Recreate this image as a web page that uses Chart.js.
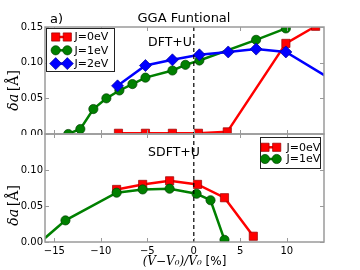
<!DOCTYPE html>
<html>
<head>
<meta charset="utf-8">
<script src="https://cdn.jsdelivr.net/npm/chart.js@4.4.1/dist/chart.umd.min.js"></script>
<style>
  html, body { margin: 0; padding: 0; background: #fff; }
  #wrap { position: relative; width: 360px; height: 270px; }
  canvas { position: absolute; left: 0; }
</style>
</head>
<body>
<div id="wrap">
  <canvas id="topChart" width="360" height="135" style="top:0"></canvas>
  <canvas id="botChart" width="360" height="137" style="top:133px"></canvas>
</div>
<script>
// ticks
const xTicks = [-15, -10, -5, 0, 5, 10];
const yTicksTop = [0, 0.05, 0.10, 0.15];
const yTicksBot = [0, 0.05, 0.10];

// DFT+U panel
const dftJ0x = [-8.1, -5.2, -2.3, 0.5, 3.6, 9.9, 13.1];
const dftJ0y = [0.001, 0.001, 0.001, 0.001, 0.003, 0.127, 0.151];
const dftJ1x = [-13.5, -12.2, -10.8, -9.4, -8.0, -6.6, -5.2, -2.3, -0.9, 0.6, 6.7, 9.9];
const dftJ1y = [0.0, 0.007, 0.035, 0.050, 0.061, 0.070, 0.079, 0.089, 0.097, 0.103, 0.132, 0.148];
const dftJ2x = [-8.2, -5.2, -2.3, 0.6, 3.7, 6.7, 9.9, 16.5];
const dftJ2y = [0.0675, 0.096, 0.104, 0.111, 0.115, 0.119, 0.115, 0.063];

// SDFT+U panel
const sdftJ0x = [-8.3, -5.5, -2.6, 0.4, 3.3, 6.4];
const sdftJ0y = [0.073, 0.080, 0.085, 0.080, 0.0615, 0.008];
const sdftJ1x = [-16.5, -13.8, -8.3, -5.5, -2.6, 0.3, 1.8, 3.3];
const sdftJ1y = [0.0, 0.030, 0.0685, 0.073, 0.074, 0.067, 0.058, 0.003];

const RED = '#ff0000', GREEN = '#008000', BLUE = '#0000ff';
const GRAY = '#9a9a9a';

const styles = {
  J0: { color: RED, edge: '#990000', point: 'rect', r: 5.8, label: 'J=0eV', order: 3 },
  J1: { color: GREEN, edge: '#004000', point: 'circle', r: 4.6, label: 'J=1eV', order: 2 },
  J2: { color: BLUE, edge: '#000099', point: 'rectRot', r: 6, label: 'J=2eV', order: 1 }
};

function series(xs, ys, s) {
  return {
    data: xs.map((x, i) => ({ x: x, y: ys[i] })),
    borderColor: s.color,
    backgroundColor: s.color,
    borderWidth: 2.5,
    pointStyle: s.point,
    pointRadius: s.r,
    pointBorderColor: s.edge,
    pointBorderWidth: 0.7,
    tension: 0,
    order: s.order
  };
}

function marker(ctx, s, x, y) {
  ctx.save();
  ctx.fillStyle = s.color;
  ctx.strokeStyle = s.edge;
  ctx.lineWidth = 0.7;
  ctx.beginPath();
  if (s.point === 'rect') {
    const h = s.r * Math.SQRT1_2;
    ctx.rect(x - h, y - h, 2 * h, 2 * h);
  } else if (s.point === 'circle') {
    ctx.arc(x, y, s.r, 0, Math.PI * 2);
  } else {
    ctx.moveTo(x - s.r, y); ctx.lineTo(x, y - s.r);
    ctx.lineTo(x + s.r, y); ctx.lineTo(x, y + s.r);
    ctx.closePath();
  }
  ctx.fill();
  ctx.stroke();
  ctx.restore();
}

function drawYTitle(ctx, cx, cy) {
  ctx.save();
  ctx.translate(cx, cy);
  ctx.rotate(-Math.PI / 2);
  ctx.fillStyle = '#000';
  ctx.textBaseline = 'middle';
  const a = 'δa', b = '[Å]';
  ctx.font = 'italic 14px "DejaVu Serif"';
  const wa = ctx.measureText(a).width;
  ctx.font = '14px "DejaVu Serif"';
  const wb = ctx.measureText(b).width;
  const gap = 5;
  let x = -(wa + gap + wb) / 2;
  ctx.font = 'italic 14px "DejaVu Serif"';
  ctx.fillText(a, x, 0);
  ctx.font = '14px "DejaVu Serif"';
  ctx.fillText(b, x + wa + gap, 0);
  ctx.restore();
}

const panelPlugin = {
  id: 'panel',
  afterDatasetsDraw(chart, args, o) {
    const ctx = chart.ctx, a = chart.chartArea;
    const xs = chart.scales.x, ys = chart.scales.y;
    ctx.save();
    // dashed line at x = 0
    const x0 = xs.getPixelForValue(0);
    ctx.strokeStyle = '#000';
    ctx.lineWidth = 1.2;
    ctx.setLineDash([4, 3]);
    ctx.beginPath();
    ctx.moveTo(x0, a.top); ctx.lineTo(x0, a.bottom);
    ctx.stroke();
    ctx.setLineDash([]);
    // frame
    ctx.strokeStyle = GRAY;
    ctx.lineWidth = 1.5;
    ctx.strokeRect(a.left, a.top, a.right - a.left, a.bottom - a.top);
    // inward ticks
    ctx.lineWidth = 1;
    ctx.beginPath();
    xTicks.forEach(v => {
      const p = Math.round(xs.getPixelForValue(v)) + 0.5;
      ctx.moveTo(p, a.bottom); ctx.lineTo(p, a.bottom - 4);
      ctx.moveTo(p, a.top); ctx.lineTo(p, a.top + 4);
    });
    o.yTicks.forEach(v => {
      const p = Math.round(ys.getPixelForValue(v)) + 0.5;
      ctx.moveTo(a.left, p); ctx.lineTo(a.left + 4, p);
      ctx.moveTo(a.right, p); ctx.lineTo(a.right - 4, p);
    });
    ctx.stroke();
    ctx.restore();
  },
  afterDraw(chart, args, o) {
    const ctx = chart.ctx;
    ctx.save();
    ctx.fillStyle = '#000';
    ctx.textBaseline = 'middle';
    (o.texts || []).forEach(t => {
      ctx.font = t.font;
      ctx.textAlign = t.align;
      ctx.fillText(t.text, t.x, t.y);
    });
    drawYTitle(ctx, o.yTitle.x, o.yTitle.y);
    // legend
    const L = o.legend;
    ctx.fillStyle = '#fff';
    ctx.fillRect(L.x, L.y, L.w, L.h);
    ctx.strokeStyle = '#222';
    ctx.lineWidth = 1;
    ctx.strokeRect(L.x + 0.5, L.y + 0.5, L.w, L.h);
    L.items.forEach((s, i) => {
      const y = L.y0 + i * L.dy;
      ctx.strokeStyle = s.color;
      ctx.lineWidth = 2.5;
      ctx.beginPath();
      ctx.moveTo(L.m1, y); ctx.lineTo(L.m2, y);
      ctx.stroke();
      marker(ctx, s, L.m1, y);
      marker(ctx, s, L.m2, y);
      ctx.fillStyle = '#000';
      ctx.font = '11px "DejaVu Sans"';
      ctx.textAlign = 'left';
      ctx.fillText(s.label, L.tx, y + 0.5);
    });
    // x title
    if (o.xTitle) {
      const p1 = '(V−V₀)/V₀', p2 = ' [%]';
      ctx.font = 'italic 12px "DejaVu Serif"';
      const w1 = ctx.measureText(p1).width;
      ctx.font = '12px "DejaVu Sans"';
      const w2 = ctx.measureText(p2).width;
      let x = o.xTitle.x - (w1 + w2) / 2;
      ctx.textAlign = 'left';
      ctx.font = 'italic 12px "DejaVu Serif"';
      ctx.fillText(p1, x, o.xTitle.y);
      ctx.font = '12px "DejaVu Sans"';
      ctx.fillText(p2, x + w1, o.xTitle.y);
    }
    ctx.restore();
  }
};

function noPad(s) {
  s.paddingTop = 0; s.paddingBottom = 0;
  s.paddingLeft = 0; s.paddingRight = 0;
}

function makeChart(id, datasets, yTicks, showX, padding, xHeight, panelOpts) {
  return new Chart(document.getElementById(id), {
    type: 'line',
    data: { datasets: datasets },
    plugins: [panelPlugin],
    options: {
      responsive: false,
      animation: false,
      events: [],
      layout: { padding: padding, autoPadding: false },
      plugins: { legend: { display: false }, tooltip: { enabled: false }, panel: Object.assign({ yTicks: yTicks }, panelOpts) },
      scales: {
        x: {
          type: 'linear', min: -16, max: 14,
          display: showX,
          afterBuildTicks: s => { s.ticks = xTicks.map(v => ({ value: v })); },
          afterFit: s => { s.height = xHeight; noPad(s); },
          grid: { display: false, drawTicks: false },
          border: { display: false },
          ticks: {
            color: '#000', padding: 3, maxRotation: 0,
            font: { family: 'DejaVu Sans', size: 10 },
            callback: v => (v < 0 ? '−' : '') + Math.abs(v)
          }
        },
        y: {
          min: 0, max: 0.15,
          afterBuildTicks: s => { s.ticks = yTicks.map(v => ({ value: v })); },
          afterFit: s => { s.width = 45; noPad(s); },
          grid: { display: false, drawTicks: false },
          border: { display: false },
          ticks: {
            color: '#000', padding: 2,
            font: { family: 'DejaVu Sans', size: 10 },
            callback: v => v.toFixed(2)
          }
        }
      }
    }
  });
}

makeChart('topChart', [
  series(dftJ0x, dftJ0y, styles.J0),
  series(dftJ1x, dftJ1y, styles.J1),
  series(dftJ2x, dftJ2y, styles.J2)
], yTicksTop, false, { left: 0, right: 36, top: 27, bottom: 1 }, 0, {
  texts: [
    { text: 'a)', x: 50, y: 20, align: 'left', font: '13px "DejaVu Sans"' },
    { text: 'GGA Funtional', x: 184, y: 19, align: 'center', font: '13px "DejaVu Sans"' },
    { text: 'DFT+U', x: 170, y: 43, align: 'center', font: '12.5px "DejaVu Sans"' }
  ],
  yTitle: { x: 14, y: 81 },
  legend: { x: 46, y: 28, w: 68, h: 43, y0: 37, dy: 13.3, m1: 55.7, m2: 67.3, tx: 74.5,
            items: [styles.J0, styles.J1, styles.J2] }
});

makeChart('botChart', [
  series(sdftJ0x, sdftJ0y, styles.J0),
  series(sdftJ1x, sdftJ1y, styles.J1)
], yTicksBot, true, { left: 0, right: 36, top: 1, bottom: 0 }, 28, {
  texts: [
    { text: 'SDFT+U', x: 174, y: 20, align: 'center', font: '12.5px "DejaVu Sans"' }
  ],
  yTitle: { x: 14, y: 63 },
  legend: { x: 260, y: 4, w: 60, h: 31, y0: 14.3, dy: 11.7, m1: 265, m2: 276.7, tx: 286.5,
            items: [styles.J0, styles.J1] },
  xTitle: { x: 184.5, y: 129 }
});
</script>
</body>
</html>
